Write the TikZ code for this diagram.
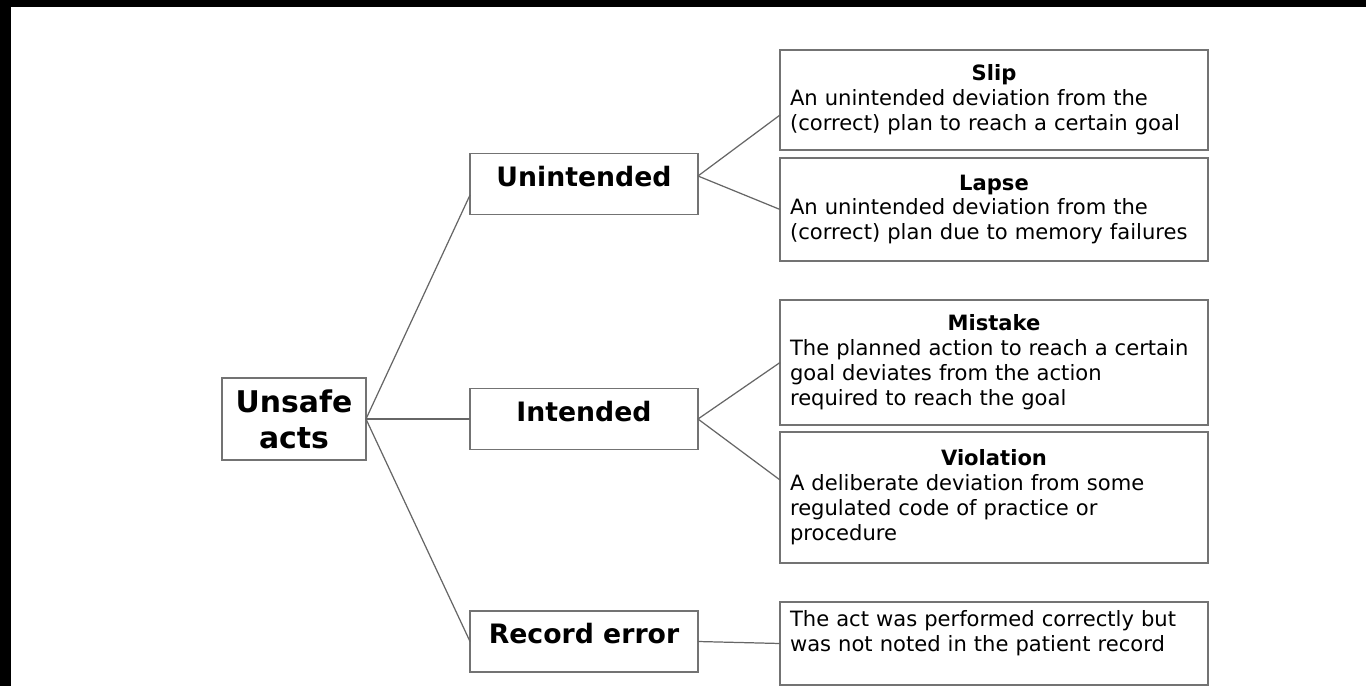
\documentclass[tikz,border=0pt]{standalone}
\usepackage{fontspec}
\setmainfont{DejaVu Sans}
\usepackage{tikz}
\usetikzlibrary{positioning}

\newcommand{\acttitle}[1]{\makebox[\linewidth]{\textbf{#1}}\\}

\begin{document}
\begin{tikzpicture}[
  x=0.02cm, y=-0.02cm,
  every node/.style={outer sep=0pt},
  root/.style={draw=black!55, line width=1.1pt, minimum width=2.88cm,
               minimum height=1.64cm, align=center,
               font=\fontsize{17}{20.5}\selectfont\bfseries},
  kind/.style={draw=black!55, line width=1.1pt, minimum width=4.56cm,
               minimum height=1.22cm, text height=12pt, text depth=9.4pt,
               font=\fontsize{15.2}{17}\selectfont\bfseries},
  desc/.style={draw=black!55, line width=1.1pt, text width=8.16cm,
               inner xsep=0.2cm, align=left,
               font=\fontsize{12}{14.2}\selectfont},
  link/.style={draw=black!60, line width=0.7pt}
]
  \useasboundingbox (0,0) rectangle (1366,686);
  \fill[black] (0,0) rectangle (1366,7);
  \fill[black] (0,0) rectangle (11,686);

  \node[root] (unsafe) at (294,419) {Unsafe\\acts};
  \node[kind] (unint) at (584,184) {Unintended};
  \node[kind] (intend) at (584,419) {Intended};
  \node[kind] (record) at (584,641.5) {Record error};

  \node[desc, minimum height=2cm] (slip) at (994,100)
    {\acttitle{Slip}An unintended deviation from the\\(correct) plan to reach a certain goal};
  \node[desc, minimum height=2.06cm] (lapse) at (994,209.5)
    {\acttitle{Lapse}An unintended deviation from the\\(correct) plan due to memory failures};
  \node[desc, minimum height=2.5cm] (mistake) at (994,362.5)
    {\acttitle{Mistake}The planned action to reach a certain\\goal deviates from the action\\required to reach the goal};
  \node[desc, minimum height=2.62cm] (violation) at (994,497.5)
    {\acttitle{Violation}A deliberate deviation from some\\regulated code of practice or\\procedure};
  \node[desc, minimum height=1.66cm] (noted) at (994,643.5)
    {The act was performed correctly but\\was not noted in the patient record\\\mbox{}};

  \draw[link] (unsafe.east) -- ([yshift=-0.22cm]unint.west);
  \draw[link] (unsafe.east) -- (intend.west);
  \draw[link] (unsafe.east) -- (record.west);

  \draw[link] ([yshift=0.16cm]unint.east) -- ([yshift=-0.3cm]slip.west);
  \draw[link] ([yshift=0.16cm]unint.east) -- (lapse.west);
  \draw[link] (intend.east) -- (mistake.west);
  \draw[link] (intend.east) -- ([yshift=0.35cm]violation.west);
  \draw[link] (record.east) -- (noted.west);
\end{tikzpicture}
\end{document}
